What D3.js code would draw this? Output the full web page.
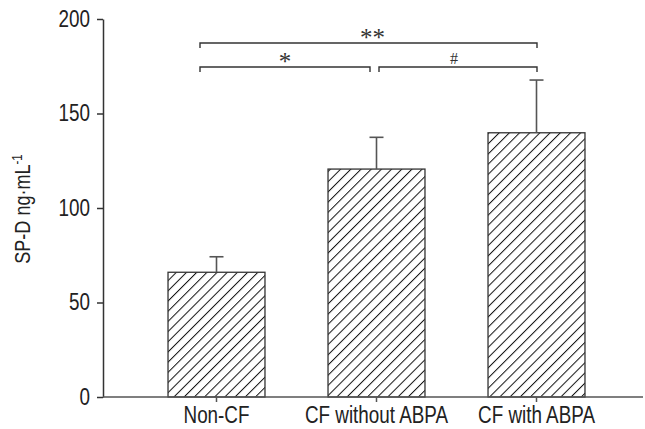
<!DOCTYPE html>
<html lang="en">
<head>
<meta charset="utf-8">
<title>SP-D bar chart</title>
<script src="https://d3js.org/d3.v7.min.js"></script>
<style>
body { margin: 0; background: #fff; }
</style>
</head>
<body>
<script type="text/javascript">
var w = 645;
var h = 429;

// data
var groups = ["Non-CF", "CF without ABPA", "CF with ABPA"];
var means = [66, 120.6, 139.8];
var upperErr = [74.2, 137.4, 167.7];
var yTicks = [0, 50, 100, 150, 200];
// significance brackets: level (ng/mL) and label
var bracketLevel = [187.3, 174.6, 174.6];
var bracketLabel = ["**", "*", "#"];

var font = "'Liberation Sans', Arial, sans-serif";
var squeeze = "scale(0.82,1)"; // condensed look of the original type
var ink = "#333";

var xScale = d3.scaleBand()
  .domain(groups)
  .range([136.5, 616.5])
  .paddingInner(0.394)
  .paddingOuter(0.197);

var yScale = d3.scaleLinear()
  .domain([0, 200])
  .range([397, 19]);

var svg = d3.select("body")
  .append("svg")
  .attr("width", w)
  .attr("height", h);

// hatch pattern
var defs = svg.append("defs");
defs.append("pattern")
  .attr("id", "hatch")
  .attr("patternUnits", "userSpaceOnUse")
  .attr("width", 7.2)
  .attr("height", 7.2)
  .attr("patternTransform", "rotate(45)")
  .append("line")
  .attr("x1", 0).attr("y1", 0)
  .attr("x2", 0).attr("y2", 7.2)
  .attr("stroke", "#111")
  .attr("stroke-width", 2);

// bars
svg.selectAll("rect.bar")
  .data(groups)
  .enter()
  .append("rect")
  .attr("class", "bar")
  .attr("x", function(d) { return xScale(d); })
  .attr("y", function(d, i) { return yScale(means[i]); })
  .attr("width", xScale.bandwidth())
  .attr("height", function(d, i) { return yScale(0) - yScale(means[i]); })
  .attr("fill", "url(#hatch)")
  .attr("stroke", ink)
  .attr("stroke-width", 1.3);

// error bars (upper only)
var cx = function(d) { return xScale(d) + xScale.bandwidth() / 2; };
svg.selectAll("line.err")
  .data(groups)
  .enter()
  .append("line")
  .attr("x1", cx).attr("x2", cx)
  .attr("y1", function(d, i) { return yScale(means[i]); })
  .attr("y2", function(d, i) { return yScale(upperErr[i]); })
  .attr("stroke", "#555")
  .attr("stroke-width", 1.6);
svg.selectAll("line.cap")
  .data(groups)
  .enter()
  .append("line")
  .attr("x1", function(d) { return cx(d) - 7; })
  .attr("x2", function(d) { return cx(d) + 7; })
  .attr("y1", function(d, i) { return yScale(upperErr[i]); })
  .attr("y2", function(d, i) { return yScale(upperErr[i]); })
  .attr("stroke", "#555")
  .attr("stroke-width", 1.6);

// y axis
var yAxis = d3.axisLeft(yScale)
  .tickValues(yTicks)
  .tickSize(6)
  .tickPadding(7)
  .tickSizeOuter(0);
var gy = svg.append("g")
  .attr("transform", "translate(103,0)")
  .call(yAxis);
gy.select(".domain").attr("stroke", ink).attr("stroke-width", 1.5);
gy.selectAll(".tick line").attr("stroke", ink).attr("stroke-width", 1.5);
gy.selectAll(".tick text")
  .attr("x", 0)
  .attr("transform", "translate(-13,0) " + squeeze)
  .attr("font-family", font)
  .attr("font-size", "23px")
  .attr("fill", "#222");

// x axis line, runs to the right edge
var gx = svg.append("g")
  .attr("transform", "translate(0," + yScale(0) + ")");
gx.append("line")
  .attr("x1", 103).attr("x2", 643)
  .attr("y1", 0).attr("y2", 0)
  .attr("stroke", "#555")
  .attr("stroke-width", 1.6);
gx.selectAll("line.xt")
  .data(groups)
  .enter()
  .append("line")
  .attr("x1", cx).attr("x2", cx)
  .attr("y1", 0).attr("y2", 5)
  .attr("stroke", "#555")
  .attr("stroke-width", 1.5);
gx.selectAll("text")
  .data(groups)
  .enter()
  .append("text")
  .attr("transform", function(d) { return "translate(" + cx(d) + ",26) " + squeeze; })
  .attr("text-anchor", "middle")
  .attr("font-family", font)
  .attr("font-size", "23px")
  .attr("fill", "#222")
  .text(function(d) { return d; });

// y label
var yl = svg.append("text")
  .attr("transform", "translate(30,209) rotate(-90) " + squeeze)
  .attr("text-anchor", "middle")
  .attr("font-family", font)
  .attr("font-size", "22px")
  .attr("fill", "#222");
yl.append("tspan").text("SP-D ng\u00b7mL");
yl.append("tspan").attr("dy", -8).attr("font-size", "14px").text("-1");

// significance brackets
var bx1 = [200, 200, 379];
var bx2 = [537, 370, 537];
bracketLabel.forEach(function(lab, i) {
  var y = yScale(bracketLevel[i]);
  var x1 = bx1[i], x2 = bx2[i];
  svg.append("path")
    .attr("d", "M" + x1 + "," + (y + 5) + "V" + y + "H" + x2 + "V" + (y + 5))
    .attr("fill", "none")
    .attr("stroke", ink)
    .attr("stroke-width", 1.4);
  var isHash = lab === "#";
  svg.append("text")
    .attr("x", (x1 + x2) / 2 + (lab === "**" ? 4 : 0) - (isHash ? 4 : 0))
    .attr("y", isHash ? y - 3 : y + 3)
    .attr("text-anchor", "middle")
    .attr("font-family", "'Liberation Serif', serif")
    .attr("font-size", isHash ? "16px" : "25px")
    .attr("fill", "#333")
    .text(lab);
});
</script>
</body>
</html>
